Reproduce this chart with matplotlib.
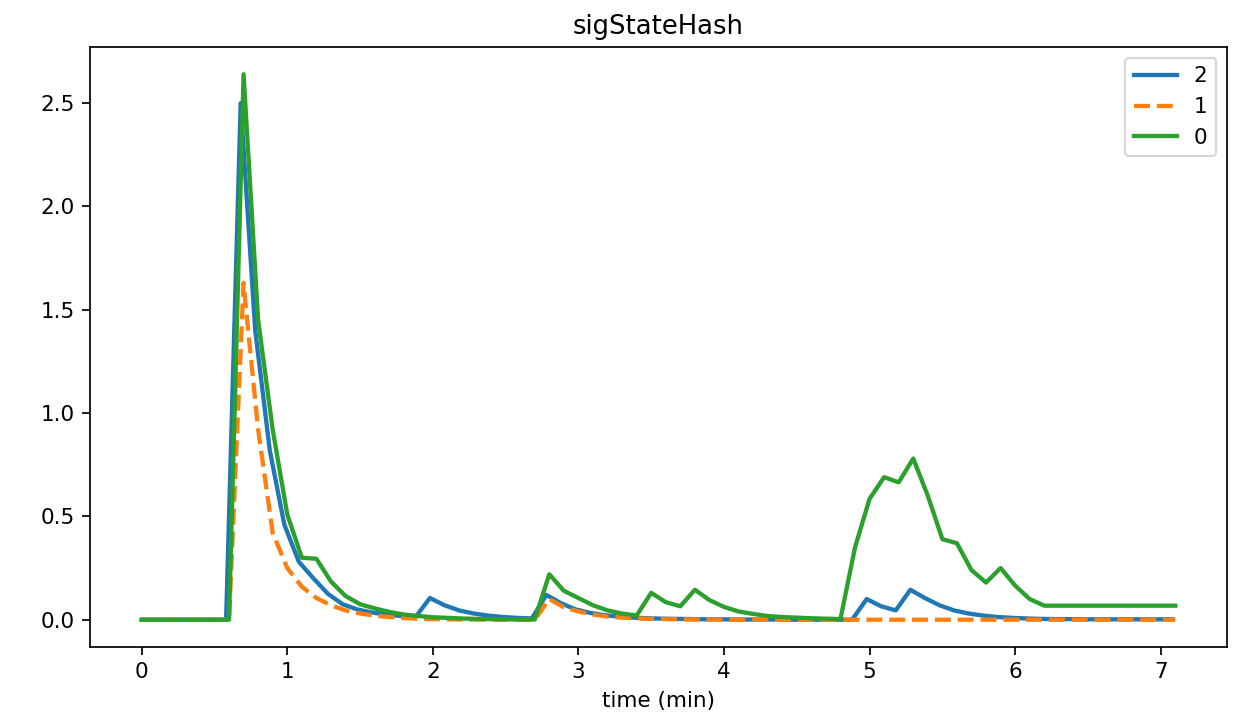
import numpy as np
import matplotlib
matplotlib.use('Agg')
import matplotlib.pyplot as plt

# sample times (min), 0.0 .. 7.1 every 0.1
time = np.round(np.arange(0, 7.15, 0.1), 2)
# series "2" is logged slightly earlier than the others (but starts at 0)
time_2 = time - 0.02
time_2[0] = 0.0

sig_2 = [0, 0, 0, 0, 0, 0, 0, 2.50, 1.40, 0.82,
         0.46, 0.28, 0.20, 0.125, 0.075, 0.05, 0.035, 0.025, 0.018, 0.012,
         0.105, 0.07, 0.045, 0.03, 0.02, 0.013, 0.009, 0.006, 0.12, 0.08,
         0.05, 0.033, 0.022, 0.015, 0.01, 0.007, 0.005, 0.004, 0.003, 0.002,
         0.002, 0.001, 0.001, 0.001, 0.001, 0.0, 0.0, 0.0, 0.0, 0.0,
         0.10, 0.065, 0.045, 0.145, 0.105, 0.07, 0.045, 0.03, 0.02, 0.013,
         0.009, 0.006, 0.004, 0.003, 0.003, 0.002, 0.002, 0.002, 0.002, 0.002,
         0.002, 0.002]

time_1 = [0.0, 0.1, 0.2, 0.3, 0.4, 0.5, 0.6, 0.7, 0.72, 0.8, 0.9,
          1.0, 1.1, 1.2, 1.3, 1.4, 1.5, 1.6, 1.7, 1.8, 1.9,
          2.0, 2.1, 2.2, 2.3, 2.4, 2.5, 2.6, 2.7, 2.8, 2.9,
          3.0, 3.1, 3.2, 3.3, 3.4, 3.5, 3.6, 3.7, 3.8, 3.9,
          4.0, 4.1, 4.2, 4.3, 4.4, 4.5, 4.6, 4.7, 4.8, 4.9,
          5.0, 5.1, 5.2, 5.3, 5.4, 5.5, 5.6, 5.7, 5.8, 5.9,
          6.0, 6.1, 6.2, 6.3, 6.4, 6.5, 6.6, 6.7, 6.8, 6.9,
          7.0, 7.1]
sig_1 = [0, 0, 0, 0, 0, 0, 0, 1.63, 1.48, 0.92, 0.42,
         0.25, 0.16, 0.105, 0.07, 0.045, 0.03, 0.02, 0.013, 0.008, 0.005,
         0.003, 0.002, 0.001, 0.001, 0.0, 0.0, 0.0, 0.0, 0.10, 0.06,
         0.04, 0.025, 0.015, 0.01, 0.006, 0.004, 0.003, 0.002, 0.001, 0.001,
         0, 0, 0, 0, 0, 0, 0, 0, 0, 0,
         0, 0, 0, 0, 0, 0, 0, 0, 0, 0,
         0, 0, 0, 0, 0, 0, 0, 0, 0, 0,
         0, 0]

sig_0 = [0, 0, 0, 0, 0, 0, 0, 2.64, 1.45, 0.92,
         0.51, 0.30, 0.295, 0.185, 0.115, 0.075, 0.055, 0.038, 0.025, 0.018,
         0.012, 0.009, 0.006, 0.004, 0.003, 0.002, 0.001, 0.001, 0.22, 0.14,
         0.105, 0.07, 0.045, 0.03, 0.02, 0.13, 0.085, 0.065, 0.145, 0.095,
         0.062, 0.04, 0.028, 0.018, 0.013, 0.01, 0.007, 0.005, 0.003, 0.35,
         0.585, 0.69, 0.665, 0.78, 0.60, 0.39, 0.37, 0.24, 0.18, 0.25,
         0.165, 0.10, 0.068, 0.068, 0.068, 0.068, 0.068, 0.068, 0.068, 0.068,
         0.068, 0.068]

legend_labels = ['2', '1', '0']

fig = plt.figure(figsize=(1243 / 155, 725 / 155), dpi=155)
ax = fig.add_axes([0.0724, 0.1076, 0.9147, 0.8276])

ax.plot(time_2, sig_2, color='tab:blue', lw=2, label=legend_labels[0])
ax.plot(time_1, sig_1, color='tab:orange', lw=2, ls='--', label=legend_labels[1])
ax.plot(time, sig_0, color='tab:green', lw=2, label=legend_labels[2])

ax.set_xlim(-0.355, 7.455)
ax.set_title('sigStateHash')
ax.set_xlabel('time (min)')
ax.legend(loc='upper right')

fig.savefig('out.png', dpi=155)
